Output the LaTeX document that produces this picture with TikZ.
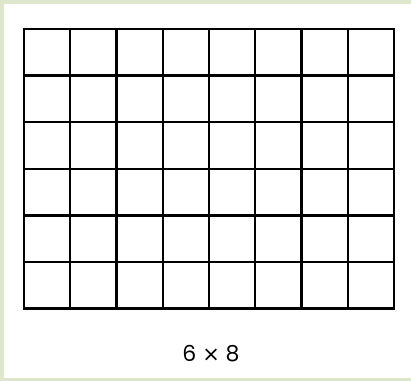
\documentclass[tikz,border=0pt]{standalone}
\usepackage{fontspec}
\setmainfont{Poppins}
\newfontfamily\symfont{DejaVu Sans}
\definecolor{edgegreen}{RGB}{222,231,204}
\begin{document}
\begin{tikzpicture}[x=1pt,y=-1pt,
  gridline/.style={line width=2.4pt, black, line cap=rect},
  caption/.style={font=\fontsize{22}{26}\selectfont, inner sep=0pt}]
\useasboundingbox (0,0) rectangle (411,381);
\fill[edgegreen] (0,0) rectangle (411,381);
\fill[white] (4,4) rectangle (411,378);
\foreach \i in {0,...,8} {
  \draw[gridline] ({24+46.25*\i},29) -- ({24+46.25*\i},308.5);
}
\foreach \j in {0,...,6} {
  \draw[gridline] (24,{29+46.58*\j}) -- (394,{29+46.58*\j});
}
\node[caption] (lbl) at (211,354) {6 {\symfont\fontsize{21}{26}\selectfont ×} 8};
\end{tikzpicture}
\end{document}
